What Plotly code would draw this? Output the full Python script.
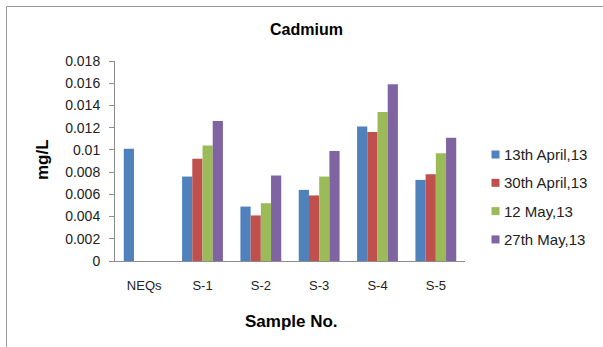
import plotly.graph_objects as go

# Sample sites and measured cadmium concentrations (mg/L)
categories = ["NEQs", "S-1", "S-2", "S-3", "S-4", "S-5"]
series_names = ["13th April,13", "30th April,13", "12 May,13", "27th May,13"]
april_13 = [0.0101, 0.0076, 0.0049, 0.0064, 0.0121, 0.0073]
april_30 = [None, 0.0092, 0.0041, 0.0059, 0.0116, 0.0078]
may_12 = [None, 0.0104, 0.0052, 0.0076, 0.0134, 0.0097]
may_27 = [None, 0.0126, 0.0077, 0.0099, 0.0159, 0.0111]
y_ticks = [0, 0.002, 0.004, 0.006, 0.008, 0.01, 0.012, 0.014, 0.016, 0.018]
y_tick_text = ["0", "0.002", "0.004", "0.006", "0.008", "0.01", "0.012", "0.014", "0.016", "0.018"]

colors = ["#4F81BD", "#C0504D", "#9BBB59", "#8064A2"]
series_values = [april_13, april_30, may_12, may_27]

W, H = 603, 347
L, R, T, B = 115, 138, 61, 86
pw, ph = W - L - R, H - T - B

fig = go.Figure()
for i, (name, vals) in enumerate(zip(series_names, series_values)):
    fig.add_trace(go.Bar(
        x=categories, y=vals, name=name,
        marker=dict(color=colors[i], line=dict(width=0)),
        showlegend=False,
    ))

font_family = "Liberation Sans, Arial, sans-serif"

def px_x(x):
    return (x - L) / pw

def px_y(y):
    return (H - B - y) / ph

annotations = [
    dict(text="<b>Cadmium</b>", x=px_x(306), y=px_y(30), xref="paper", yref="paper",
         showarrow=False, font=dict(size=16, color="black"), xanchor="center", yanchor="middle"),
    dict(text="<b>mg/L</b>", x=px_x(42), y=px_y(160), xref="paper", yref="paper",
         showarrow=False, textangle=-90, font=dict(size=17, color="black"),
         xanchor="center", yanchor="middle"),
    dict(text="<b>Sample No.</b>", x=px_x(291), y=px_y(321), xref="paper", yref="paper",
         showarrow=False, font=dict(size=17, color="black"), xanchor="center", yanchor="middle"),
]
shapes = [
    dict(type="rect", xref="paper", yref="paper",
         x0=px_x(6.5), x1=px_x(610), y0=px_y(360), y1=px_y(6.5),
         line=dict(color="#9a9a9a", width=1), fillcolor="rgba(0,0,0,0)", layer="below"),
]

# Legend: colour swatch followed by the series name, one row per series
legend_top, legend_step = 154.5, 28.3
for i, name in enumerate(series_names):
    cy = legend_top + i * legend_step
    shapes.append(dict(type="rect", xref="paper", yref="paper",
                       x0=px_x(491.5), x1=px_x(499.5), y0=px_y(cy + 4), y1=px_y(cy - 4),
                       line=dict(width=0), fillcolor=colors[i]))
    annotations.append(dict(text=name, x=px_x(502), y=px_y(cy), xref="paper", yref="paper",
                            showarrow=False, xanchor="left", yanchor="middle",
                            font=dict(size=15, color="#222")))

fig.update_layout(
    width=W, height=H,
    margin=dict(l=L, r=R, t=T, b=B, autoexpand=False),
    paper_bgcolor="white", plot_bgcolor="white",
    barmode="group", bargap=0.3, bargroupgap=0,
    font=dict(family=font_family, size=12, color="#222"),
    showlegend=False,
    xaxis=dict(
        showline=True, linecolor="#8c8c8c", linewidth=1,
        ticks="", tickfont=dict(size=13, color="#222"),
        ticklabelstandoff=12,
        showgrid=False, range=[-0.5, 5.5],
    ),
    yaxis=dict(
        range=[0, 0.018], tickvals=y_ticks, ticktext=y_tick_text,
        showline=True, linecolor="#8c8c8c", linewidth=1,
        ticks="outside", ticklen=5, tickcolor="#8c8c8c",
        ticklabelstandoff=6,
        showgrid=False, zeroline=False,
        tickfont=dict(size=14, color="#222"),
    ),
    annotations=annotations,
    shapes=shapes,
)

fig.write_html("out.html")
